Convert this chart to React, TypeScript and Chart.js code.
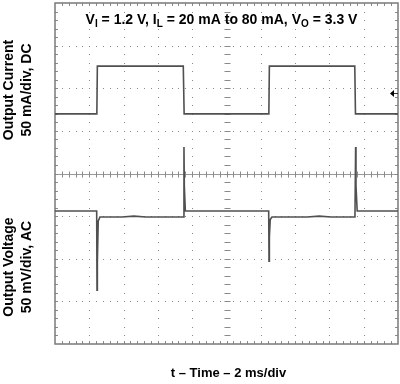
import React, { useEffect, useRef } from "react";
import { Chart, registerables } from "chart.js";

Chart.register(...registerables);

// Time axis: 2 ms/div, 10 divisions
const timeRangeMs = [0, 20];
// Current channel: 50 mA/div, DC
const currentRangeMA = [-250, 150];
// Voltage channel: 50 mV/div, AC
const voltageRangeMV = [-156, 244];

// Output current trace (ms, mA)
const currentTimeMs = [0, 2.44, 2.47, 7.48, 7.53, 12.47, 12.50, 17.48, 17.52, 20];
const currentMA = [20, 20, 76, 76, 20, 20, 76, 76, 20, 20];

// Output voltage trace (ms, mV AC)
const voltageTimeMs = [
  0, 2.43, 2.45, 2.47, 2.52, 2.62, 3.2, 3.9, 4.6, 5.3, 6.0, 6.7, 7.3, 7.49, 7.52, 7.54, 7.60,
  12.46, 12.48, 12.50, 12.55, 12.65, 13.3, 14.0, 14.7, 15.4, 16.1, 16.8, 17.3, 17.49, 17.53, 17.55, 17.62, 20,
];
const voltageMV = [
  0, 0, -93, -60, -12, -7, -7, -7, -6, -7, -7, -7, -7, -7, 75, 30, 0,
  0, -59, -30, -10, -7, -7, -7, -7, -6, -7, -7, -7, -7, 75, 30, 0, 0,
];

const titleParts: [string, boolean][] = [
  ["V", false], ["I", true], [" = 1.2 V, I", false], ["L", true],
  [" = 20 mA to 80 mA, V", false], ["O", true], [" = 3.3 V", false],
];
const currentLabel = ["Output Current", "50 mA/div, DC"];
const voltageLabel = ["Output Voltage", "50 mV/div, AC"];
const timeLabel = "t \u2013 Time \u2013 2 ms/div";

const FONT = '"Liberation Sans", Arial, Helvetica, sans-serif';

const graticule = {
  id: "graticule",
  beforeDatasetsDraw(chart: any) {
    const { ctx } = chart;
    const { left, top, right, bottom } = chart.chartArea;
    const w = right - left;
    const h = bottom - top;
    ctx.save();
    // dotted grid
    ctx.fillStyle = "#8a8a8a";
    for (let i = 1; i < 10; i++) {
      if (i === 5) continue;
      const x = Math.round(left + (i * w) / 10);
      for (let k = 1; k < 40; k++) {
        const y = Math.round(top + (k * h) / 40);
        ctx.fillRect(x, y, 1, 1);
      }
    }
    for (let j = 1; j < 8; j++) {
      if (j === 4) continue;
      const y = Math.round(top + (j * h) / 8);
      for (let k = 1; k < 50; k++) {
        const x = Math.round(left + (k * w) / 50);
        ctx.fillRect(x, y, 1, 1);
      }
    }
    // center lines
    ctx.strokeStyle = "#9a9a9a";
    ctx.lineWidth = 1;
    const cy = Math.round(top + h / 2) + 0.5;
    const cx = Math.round(left + w / 2) + 0.5;
    ctx.beginPath();
    ctx.moveTo(left, cy);
    ctx.lineTo(right, cy);
    ctx.stroke();
    ctx.strokeStyle = "#8a8a8a";
    ctx.beginPath();
    for (let k = 1; k < 50; k++) {
      const x = Math.round(left + (k * w) / 50) + 0.5;
      ctx.moveTo(x, cy - 3);
      ctx.lineTo(x, cy + 3);
    }
    for (let k = 1; k < 40; k++) {
      const y = Math.round(top + (k * h) / 40) + 0.5;
      ctx.moveTo(cx - 3, y);
      ctx.lineTo(cx + 3, y);
    }
    // border ticks
    for (let k = 1; k < 50; k++) {
      const x = Math.round(left + (k * w) / 50) + 0.5;
      ctx.moveTo(x, top);
      ctx.lineTo(x, top + 3);
      ctx.moveTo(x, bottom);
      ctx.lineTo(x, bottom - 3);
    }
    for (let k = 1; k < 40; k++) {
      const y = Math.round(top + (k * h) / 40) + 0.5;
      ctx.moveTo(left, y);
      ctx.lineTo(left + 3, y);
      ctx.moveTo(right, y);
      ctx.lineTo(right - 3, y);
    }
    ctx.stroke();
    // border
    ctx.strokeStyle = "#7a7a7a";
    ctx.lineWidth = 1.5;
    ctx.strokeRect(left, top, w, h);
    ctx.restore();
  },
  afterDraw(chart: any) {
    const { ctx } = chart;
    const { left, right, top, bottom } = chart.chartArea;
    ctx.save();
    ctx.fillStyle = "#000";
    // title with subscripts
    const big = `bold 14px ${FONT}`;
    const small = `bold 10px ${FONT}`;
    let total = 0;
    for (const [t, sub] of titleParts) {
      ctx.font = sub ? small : big;
      total += ctx.measureText(t).width;
    }
    let x = (left + right) / 2 - 5 - total / 2;
    const baseY = top + 21;
    ctx.textBaseline = "alphabetic";
    ctx.textAlign = "left";
    for (const [t, sub] of titleParts) {
      ctx.font = sub ? small : big;
      ctx.fillText(t, x, sub ? baseY + 3 : baseY);
      x += ctx.measureText(t).width;
    }
    // x label
    ctx.font = `bold 13px ${FONT}`;
    ctx.textAlign = "center";
    ctx.textBaseline = "middle";
    ctx.fillText(timeLabel, (left + right) / 2 + 2, bottom + 29);
    // y labels
    ctx.font = big;
    const drawRot = (lines: string[], cyv: number) => {
      ctx.save();
      ctx.translate(0, cyv);
      ctx.rotate(-Math.PI / 2);
      ctx.fillText(lines[0], 0, 9);
      ctx.fillText(lines[1], 0, 27);
      ctx.restore();
    };
    drawRot(currentLabel, 90);
    drawRot(voltageLabel, 267);
    // ground marker arrow at right edge
    const ay = 93;
    ctx.strokeStyle = "#333";
    ctx.lineWidth = 1;
    ctx.beginPath();
    ctx.moveTo(right - 6, ay + 0.5);
    ctx.lineTo(right, ay + 0.5);
    ctx.stroke();
    ctx.beginPath();
    ctx.moveTo(right - 8, ay + 0.5);
    ctx.lineTo(right - 4, ay - 3);
    ctx.lineTo(right - 4, ay + 4);
    ctx.closePath();
    ctx.fill();
    ctx.restore();
  },
};

export default function App() {
  const ref = useRef<HTMLCanvasElement | null>(null);
  useEffect(() => {
    document.body.style.margin = "0";
    const canvas = ref.current;
    if (!canvas) return;
    const chart = new Chart(canvas, {
      type: "line",
      data: {
        datasets: [
          {
            label: "Output Current",
            data: currentTimeMs.map((t, i) => ({ x: t, y: currentMA[i] })),
            yAxisID: "yI",
            borderColor: "#505050",
            borderWidth: 1.6,
            pointRadius: 0,
            tension: 0,
          },
          {
            label: "Output Voltage",
            data: voltageTimeMs.map((t, i) => ({ x: t, y: voltageMV[i] })),
            yAxisID: "yV",
            borderColor: "#505050",
            borderWidth: 1.6,
            pointRadius: 0,
            tension: 0,
          },
        ],
      },
      options: {
        animation: false,
        responsive: false,
        maintainAspectRatio: false,
        devicePixelRatio: 1,
        layout: { padding: { left: 55, top: 3, right: 2, bottom: 40 } },
        plugins: { legend: { display: false }, tooltip: { enabled: false }, title: { display: false } },
        scales: {
          x: { type: "linear", min: timeRangeMs[0], max: timeRangeMs[1], display: false },
          yI: { type: "linear", min: currentRangeMA[0], max: currentRangeMA[1], display: false },
          yV: { type: "linear", min: voltageRangeMV[0], max: voltageRangeMV[1], display: false },
        },
      },
      plugins: [graticule],
    });
    return () => chart.destroy();
  }, []);
  return (
    <div style={{ position: "absolute", left: 0, top: 0, width: 400, height: 384, background: "#fff" }}>
      <canvas ref={ref} width={400} height={384} style={{ width: 400, height: 384 }} />
    </div>
  );
}
